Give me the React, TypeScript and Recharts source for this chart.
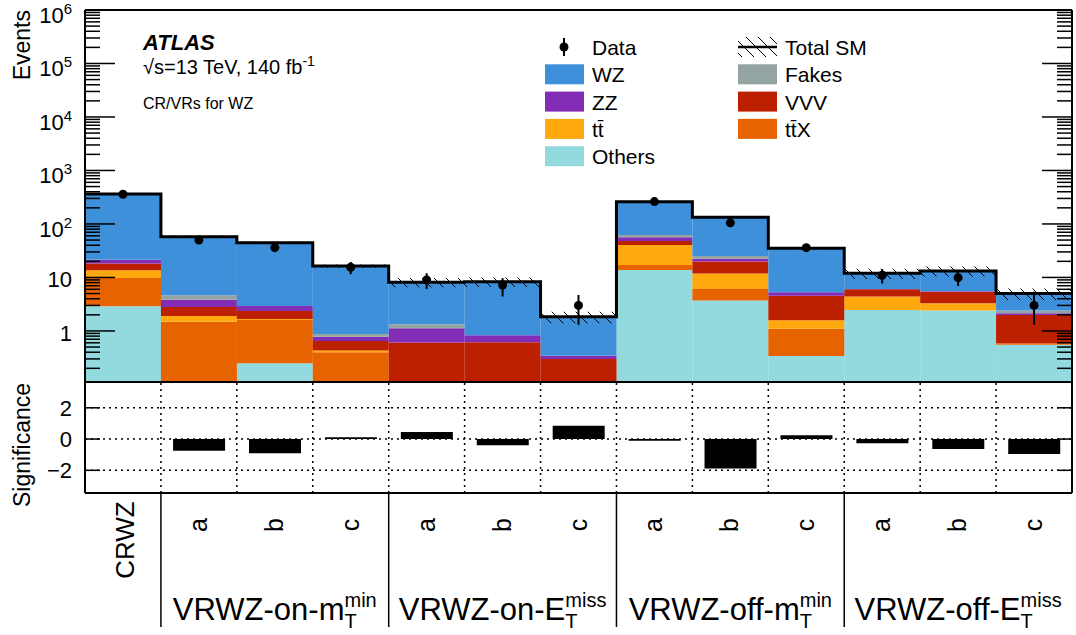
import React from 'react'
import { ComposedChart, Bar, Line, Scatter, ErrorBar, XAxis, YAxis, ReferenceLine, Legend } from 'recharts'

// bins: control region + 4 validation regions x 3 slices
const bins = ['CRWZ', 'onMT-a', 'onMT-b', 'onMT-c', 'onET-a', 'onET-b', 'onET-c', 'offMT-a', 'offMT-b', 'offMT-c', 'offET-a', 'offET-b', 'offET-c']
const binTicks = ['CRWZ', 'a', 'b', 'c', 'a', 'b', 'c', 'a', 'b', 'c', 'a', 'b', 'c']

// background yields, stacked bottom -> top
const others = [2.9, 0, 0.25, 0, 0, 0, 0, 13.8, 3.7, 0.34, 2.47, 2.4, 0.55]
const ttx = [6.9, 1.49, 1.35, 0.4, 0, 0, 0, 3.3, 2.4, 0.76, 0, 0, 0.04]
const ttbar = [3.9, 0.42, 0.08, 0.03, 0, 0, 0, 23.4, 5.7, 0.48, 1.93, 0.9, 0]
const vvv = [4.6, 0.9, 0.69, 0.22, 0.605, 0.615, 0.3, 7.5, 8.0, 2.99, 1.6, 2.1, 1.4]
const zz = [2.9, 1.0, 0.56, 0.13, 0.515, 0.215, 0.045, 8.5, 2.6, 0.73, 0.1, 0.1, 0.15]
const fakes = [0.3, 0.85, 0, 0.1, 0.21, 0, 0, 5.5, 2.8, 0, 0, 0, 0.26]
const wz = [341, 53, 41.8, 15.5, 6.8, 7.5, 1.5, 199, 108, 29.7, 5.9, 7.7, 2.6]

const totalUnc = [14, 3, 2.5, 1.0, 1.6, 1.7, 0.45, 11, 6, 2.0, 2.6, 2.8, 1.2]

const dataObs = [360, 50, 36, 15.5, 9.0, 7.2, 3.0, 262, 105, 36, 11, 9.9, 3.0]
const dataErrDown = [19, 7, 6, 4, 2.9, 2.8, 1.7, 16, 10, 6, 3.3, 3, 1.7]
const dataErrUp = [19, 7, 6, 4, 3.0, 2.5, 1.7, 16, 10, 6, 3.3, 3, 2.4]

const significance = [0, -0.75, -0.9, 0.12, 0.45, -0.4, 0.85, -0.1, -1.88, 0.25, -0.27, -0.64, -0.96]

const groupNames = ['VRWZ-on-m', 'VRWZ-on-E', 'VRWZ-off-m', 'VRWZ-off-E']
const groupSups = ['min', 'miss', 'min', 'miss']
const groupEdges = [1, 4, 7, 10]
const groupCenters = [2.5, 5.5, 8.5, 11.5]

const decades = [1, 10, 100, 1000, 10000, 100000, 1000000]
const sigTicks = [-2, 0, 2]

const YMIN = 0.111
const YMAX = 1e6

const stack = [
  { key: 'others', name: 'Others', color: '#92dadd', values: others },
  { key: 'ttx', name: 'tt\u0304X', color: '#e76300', values: ttx },
  { key: 'ttbar', name: 'tt\u0304', color: '#ffa90e', values: ttbar },
  { key: 'vvv', name: 'VVV', color: '#bd1f01', values: vvv },
  { key: 'zz', name: 'ZZ', color: '#832db6', values: zz },
  { key: 'fakes', name: 'Fakes', color: '#94a4a2', values: fakes },
  { key: 'wz', name: 'WZ', color: '#3f90da', values: wz },
]

const totals = bins.map((_, i) => stack.reduce((s, p) => s + p.values[i], 0))

const topRows = bins.map((bin, i) => {
  const row: any = { bin, data: dataObs[i], err: [dataErrDown[i], dataErrUp[i]] }
  stack.forEach((p) => (row[p.key] = p.values[i]))
  row.band = [totals[i] - totalUnc[i], totals[i] + totalUnc[i]]
  return row
})

const edgeRows = Array.from({ length: 14 }, (_, i) => ({ e: i, total: totals[Math.min(i, 12)] }))

const sigRows = bins.map((bin, i) => ({ bin, sig: significance[i] }))

// log ticks: decades get labels, the rest are minor
const yTicks: number[] = []
for (let k = -1; k <= 5; k++) {
  for (let m = 1; m <= 9; m++) {
    const v = Number((m * Math.pow(10, k)).toPrecision(3))
    if (v >= YMIN && v <= YMAX) yTicks.push(v)
  }
}
yTicks.push(YMAX)

const edgeTicks = [1, 2, 3, 4, 5, 6, 7, 8, 9, 10, 11, 12]
const groupTicks = [...groupEdges, ...groupCenters].sort((a, b) => a - b)

const isDecade = (v: number) => decades.includes(v)

const YTickLeft = (props: any) => {
  const { x, y, payload } = props
  const v = payload.value
  const major = isDecade(v)
  const exp = Math.round(Math.log10(v))
  return (
    <g>
      <line x1={x} x2={x + (major ? 30 : 15)} y1={y} y2={y} stroke="#000" strokeWidth={1.5} />
      {major && (
        <text x={x - 13} y={y + (exp > 1 ? 13 : 10)} textAnchor="end" fontSize={22} fill="#000">
          {exp === 0 ? '1' : '10'}
          {exp > 1 && (
            <tspan dy={-9} fontSize={15}>
              {exp}
            </tspan>
          )}
        </text>
      )}
    </g>
  )
}

const YTickRight = (props: any) => {
  const { x, y, payload } = props
  const major = isDecade(payload.value)
  return <line x1={x} x2={x - (major ? 30 : 15)} y1={y} y2={y} stroke="#000" strokeWidth={1.5} />
}

const EdgeTick = (props: any) => {
  const { x, y } = props
  return <line x1={x} x2={x} y1={y} y2={y - 10} stroke="#000" strokeWidth={1.5} />
}

const SigTickLeft = (props: any) => {
  const { x, y, payload } = props
  const v = payload.value
  return (
    <g>
      <line x1={x} x2={x + 15} y1={y} y2={y} stroke="#000" strokeWidth={1.5} />
      <text x={x - 13} y={y + 8} textAnchor="end" fontSize={22} fill="#000">
        {v < 0 ? `\u2212${Math.abs(v)}` : v}
      </text>
    </g>
  )
}

const SigTickRight = (props: any) => {
  const { x, y } = props
  return <line x1={x} x2={x - 15} y1={y} y2={y} stroke="#000" strokeWidth={1.5} />
}

const BinLabelTick = (props: any) => {
  const { x, y, payload } = props
  const label = binTicks[bins.indexOf(payload.value)]
  if (label === 'CRWZ') {
    return (
      <text transform={`translate(${x + 11},${y + 47}) rotate(-90)`} textAnchor="middle" fontSize={26} fill="#000">
        {label}
      </text>
    )
  }
  return (
    <text transform={`translate(${x + 8},${y + 32}) rotate(-90)`} textAnchor="middle" fontSize={25} fill="#000">
      {label}
    </text>
  )
}

const GroupTick = (props: any) => {
  const { x, y, payload } = props
  const v = payload.value
  const gi = groupEdges.indexOf(v)
  if (gi >= 0) {
    return <line x1={x} x2={x} y1={y - 1} y2={y + 133} stroke="#000" strokeWidth={1.5} />
  }
  const ci = groupCenters.indexOf(v)
  return (
    <text x={x} y={y + 126} textAnchor="middle" fontSize={31} fill="#000">
      {groupNames[ci]}
      <tspan dy={8} fontSize={20}>T</tspan>
      <tspan dx={-12.2} dy={-21} fontSize={20}>
        {groupSups[ci]}
      </tspan>
    </text>
  )
}

const legendCol1 = [
  { name: 'WZ', color: '#3f90da' },
  { name: 'ZZ', color: '#832db6' },
  { name: 'tt\u0304', color: '#ffa90e' },
  { name: 'Others', color: '#92dadd' },
]
const legendCol2 = [
  { name: 'Fakes', color: '#94a4a2' },
  { name: 'VVV', color: '#bd1f01' },
  { name: 'tt\u0304X', color: '#e76300' },
]

const LegendBox = () => {
  const rowY = (r: number) => 22 + r * 27.3
  return (
    <svg width={340} height={150} style={{ fontFamily: '"Liberation Sans", Arial, sans-serif' }}>
      <defs>
        <pattern id="hatchLeg" patternUnits="userSpaceOnUse" width={12} height={12}>
          <path d="M0,0 L12,12 M-3,9 L3,15 M9,-3 L15,3" stroke="#000" strokeWidth={1} />
        </pattern>
      </defs>
      <circle cx={34} cy={rowY(0)} r={4.5} fill="#000" />
      <line x1={34} x2={34} y1={rowY(0) - 9} y2={rowY(0) + 9} stroke="#000" strokeWidth={2} />
      <text x={62} y={rowY(0) + 8} fontSize={21}>Data</text>
      {legendCol1.map((it, i) => (
        <g key={it.name}>
          <rect x={15} y={rowY(i + 1) - 10} width={39} height={20} fill={it.color} />
          <text x={62} y={rowY(i + 1) + 8} fontSize={21}>{it.name}</text>
        </g>
      ))}
      <rect x={208} y={rowY(0) - 10} width={39} height={20} fill="url(#hatchLeg)" />
      <line x1={208} x2={247} y1={rowY(0)} y2={rowY(0)} stroke="#000" strokeWidth={2.5} />
      <text x={255} y={rowY(0) + 8} fontSize={21}>Total SM</text>
      {legendCol2.map((it, i) => (
        <g key={it.name}>
          <rect x={208} y={rowY(i + 1) - 10} width={39} height={20} fill={it.color} />
          <text x={255} y={rowY(i + 1) + 8} fontSize={21}>{it.name}</text>
        </g>
      ))}
    </svg>
  )
}

const frame = { stroke: '#000', strokeWidth: 2 }

export default function App() {
  return (
    <div
      style={{
        position: 'absolute',
        left: 0,
        top: 0,
        width: 1076,
        height: 635,
        background: '#fff',
        fontFamily: '"Liberation Sans", Arial, sans-serif',
      }}
    >
      <div style={{ position: 'absolute', left: 0, top: 0 }}>
        <ComposedChart
          width={1076}
          height={383}
          data={topRows}
          margin={{ top: 9, right: 0, bottom: 0, left: 0 }}
          barCategoryGap={0}
          barGap={0}
        >
          <defs>
            <pattern id="hatchSM" patternUnits="userSpaceOnUse" width={12} height={12}>
              <path d="M0,0 L12,12 M-3,9 L3,15 M9,-3 L15,3" stroke="#000" strokeWidth={1} />
            </pattern>
          </defs>
          <XAxis xAxisId="a" dataKey="bin" type="category" hide />
          <XAxis xAxisId="b" dataKey="bin" type="category" hide />
          <XAxis
            xAxisId="num"
            type="number"
            dataKey="e"
            domain={[0, 13]}
            allowDataOverflow
            ticks={edgeTicks}
            interval={0}
            height={1}
            tickSize={0}
            tickMargin={0}
            axisLine={frame}
            tickLine={false}
            tick={EdgeTick}
          />
          <XAxis xAxisId="top" orientation="top" dataKey="bin" type="category" height={1} tick={false} tickLine={false} axisLine={frame} />
          <YAxis
            yAxisId="L"
            type="number"
            scale="log"
            domain={[YMIN, YMAX]}
            allowDataOverflow
            ticks={yTicks}
            interval={0}
            width={85}
            tickSize={0}
            tickMargin={0}
            tickLine={false}
            axisLine={frame}
            tick={YTickLeft}
          />
          <YAxis
            yAxisId="R"
            orientation="right"
            type="number"
            scale="log"
            domain={[YMIN, YMAX]}
            allowDataOverflow
            ticks={yTicks}
            interval={0}
            width={4}
            tickSize={0}
            tickMargin={0}
            tickLine={false}
            axisLine={frame}
            tick={YTickRight}
          />
          {stack.map((p) => (
            <Bar
              key={p.key}
              xAxisId="a"
              yAxisId="L"
              dataKey={p.key}
              name={p.name}
              stackId="bkg"
              fill={p.color}
              isAnimationActive={false}
            />
          ))}
          <Bar xAxisId="b" yAxisId="L" dataKey="band" fill="url(#hatchSM)" isAnimationActive={false} legendType="none" />
          <Line
            xAxisId="num"
            yAxisId="L"
            data={edgeRows}
            dataKey="total"
            type="stepAfter"
            stroke="#000"
            strokeWidth={3}
            dot={false}
            isAnimationActive={false}
          />
          <Scatter
            xAxisId="a"
            yAxisId="L"
            dataKey="data"
            fill="#000"
            isAnimationActive={false}
            shape={(p: any) => <circle cx={p.cx} cy={p.cy} r={4.5} fill="#000" />}
          >
            <ErrorBar dataKey="err" direction="y" width={0} stroke="#000" strokeWidth={2} isAnimationActive={false} />
          </Scatter>
          <Legend
            layout="vertical"
            align="center"
            verticalAlign="middle"
            content={() => <LegendBox />}
            wrapperStyle={{ left: 530, top: 25, width: 340, height: 150 }}
          />
          <text transform="translate(30,10) rotate(-90)" textAnchor="end" fontSize={23} fill="#000">
            Events
          </text>
          <text x={143} y={50} fontSize={22} fontWeight="bold" fontStyle="italic" fill="#000">
            ATLAS
          </text>
          <text x={143} y={74} fontSize={20} fill="#000">
            √s=13 TeV, 140 fb
            <tspan dy={-8} fontSize={14}>
              -1
            </tspan>
          </text>
          <text x={143} y={109} fontSize={16} fill="#000">
            CR/VRs for WZ
          </text>
        </ComposedChart>
      </div>
      <div style={{ position: 'absolute', left: 0, top: 381 }}>
        <ComposedChart
          width={1076}
          height={254}
          data={sigRows}
          margin={{ top: 0, right: 0, bottom: 140, left: 0 }}
          barCategoryGap="16%"
        >
          <XAxis
            xAxisId="a"
            dataKey="bin"
            type="category"
            height={1}
            interval={0}
            tickSize={0}
            tickMargin={0}
            tickLine={false}
            axisLine={frame}
            tick={BinLabelTick}
          />
          <XAxis
            xAxisId="num"
            type="number"
            dataKey="e"
            domain={[0, 13]}
            allowDataOverflow
            ticks={groupTicks}
            interval={0}
            height={1}
            tickSize={0}
            tickMargin={0}
            tickLine={false}
            axisLine={false}
            tick={GroupTick}
          />
          <XAxis xAxisId="top" orientation="top" dataKey="bin" type="category" height={1} tick={false} tickLine={false} axisLine={frame} />
          <YAxis
            yAxisId="L"
            type="number"
            domain={[-3.45, 3.65]}
            allowDataOverflow
            ticks={sigTicks}
            interval={0}
            width={85}
            tickSize={0}
            tickMargin={0}
            tickLine={false}
            axisLine={frame}
            tick={SigTickLeft}
          />
          <YAxis
            yAxisId="R"
            orientation="right"
            type="number"
            domain={[-3.45, 3.65]}
            allowDataOverflow
            ticks={sigTicks}
            interval={0}
            width={4}
            tickSize={0}
            tickMargin={0}
            tickLine={false}
            axisLine={frame}
            tick={SigTickRight}
          />
          {sigTicks.map((t) => (
            <ReferenceLine key={`h${t}`} xAxisId="num" yAxisId="L" y={t} stroke="#000" strokeWidth={1.5} strokeDasharray="2 4" />
          ))}
          {edgeTicks.map((t) => (
            <ReferenceLine key={`v${t}`} xAxisId="num" yAxisId="L" x={t} stroke="#000" strokeWidth={1.5} strokeDasharray="2 4" />
          ))}
          <Bar xAxisId="a" yAxisId="L" dataKey="sig" fill="#000" isAnimationActive={false} />
          <text transform="translate(30,64) rotate(-90)" textAnchor="middle" fontSize={23} fill="#000">
            Significance
          </text>
        </ComposedChart>
      </div>
    </div>
  )
}
